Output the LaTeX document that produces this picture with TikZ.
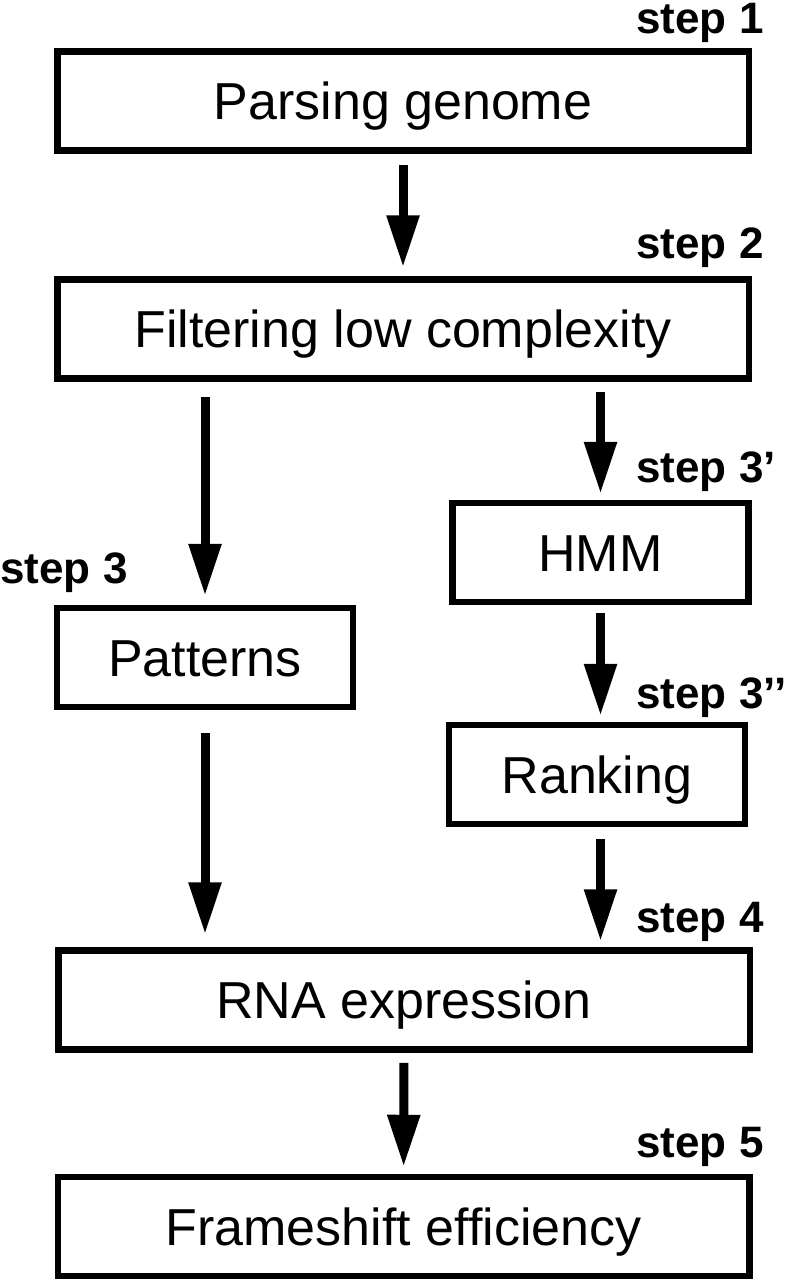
\documentclass[tikz,border=0pt]{standalone}
\usepackage{fontspec}
\setmainfont{Liberation Sans}
\usetikzlibrary{arrows.meta}

\begin{document}
\begin{tikzpicture}[x=0.5pt, y=-0.5pt,
    >={Triangle[length=26pt, width=15.5pt]},
    box/.style={draw, line width=3.25pt, inner sep=0pt, minimum height=49.5pt,
        font=\fontsize{26}{31}\selectfont, text height=18.6pt, text depth=0pt},
    wide/.style={box, minimum width=345.75pt},
    small/.style={box, minimum width=148pt},
    lab/.style={inner sep=0pt, anchor=base west, font=\fontsize{22}{26}\selectfont\bfseries},
    flow/.style={->, line width=4.5pt, shorten <=5pt, shorten >=3pt}]
    \useasboundingbox (0,0) rectangle (793,1280);

    \node[wide] (parse) at (403,101) {Parsing genome};
    \node[wide] (filt) at (403,329) {Filtering low complexity};
    \node[small] (hmm) at (600.5,552.5) {HMM};
    \node[small] (pat) at (205,657.5) {Patterns};
    \node[small] (rank) at (597,774.5) {Ranking};
    \node[wide] (rna) at (404,1000) {RNA expression};
    \node[wide] (fs) at (403.5,1226.5) {Frameshift efficiency};

    \node[lab] (s1) at (636,33) {step 1};
    \node[lab] (s2) at (636,258) {step 2};
    \node[lab] (s3a) at (636,482) {step 3’};
    \node[lab] (s3) at (0,583) {step 3};
    \node[lab] (s3b) at (636,708) {step 3’’};
    \node[lab] (s4) at (636,932) {step 4};
    \node[lab] (s5) at (636,1157) {step 5};

    \draw[flow, shorten <=5.5pt, shorten >=4.5pt] (parse) -- (filt);
    \draw[flow, shorten <=7.5pt, shorten >=4.5pt] (filt.south -| pat) -- (pat);
    \draw[flow] (filt.south -| hmm) -- (hmm);
    \draw[flow, shorten <=4pt] (hmm.south) -- (hmm.south |- rank.north);
    \draw[flow, shorten <=11.5pt, shorten >=6.5pt] (pat) -- (rna.north -| pat);
    \draw[flow, shorten <=6pt] (rank.south -| hmm) -- (rna.north -| hmm);
    \draw[flow, shorten >=3.5pt] (rna) -- (fs);
\end{tikzpicture}
\end{document}
